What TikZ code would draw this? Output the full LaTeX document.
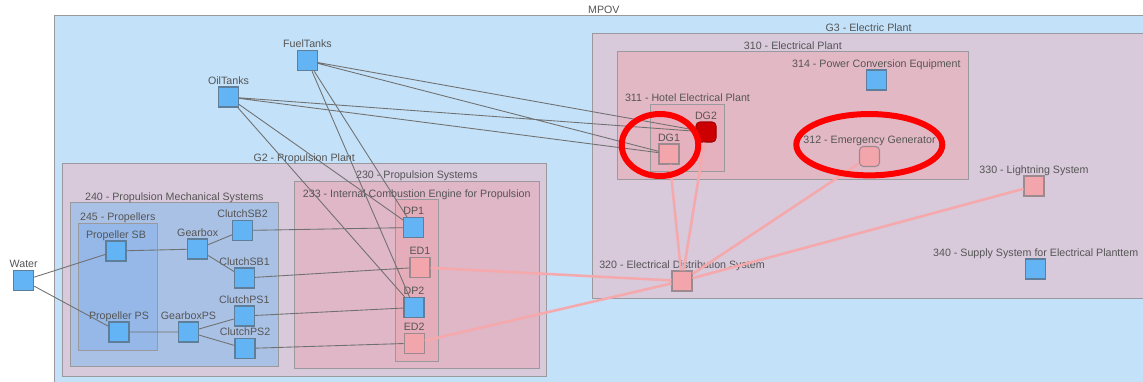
\documentclass[tikz,border=0pt]{standalone}
\usepackage{fontspec}
\setmainfont{Liberation Sans}
\definecolor{mpovfill}{HTML}{C3E1F8}
\definecolor{gfill}{HTML}{D8C9DB}
\definecolor{fA}{HTML}{A9C1E5}
\definecolor{fB}{HTML}{95B8E8}
\definecolor{fC}{HTML}{DFB7C6}
\definecolor{fD}{HTML}{E5ADBA}
\definecolor{fE}{HTML}{E2B8C5}
\definecolor{fF}{HTML}{E6B1BE}
\definecolor{contborder}{HTML}{9A9A9E}
\definecolor{bfill}{HTML}{63B4F5}
\definecolor{bborder}{HTML}{5E7E9A}
\definecolor{pfill}{HTML}{F2A5AA}
\definecolor{pborder}{HTML}{9C8A90}
\definecolor{dgred}{HTML}{CC0000}
\definecolor{linkgray}{HTML}{707070}
\definecolor{linkpink}{HTML}{F5A9AC}
\definecolor{txtgray}{HTML}{555555}
\begin{document}
\begin{tikzpicture}[x=0.75pt,y=-0.75pt,
  lbl/.style={font=\fontsize{8}{9.6}\selectfont, text=txtgray, inner sep=0pt, text depth=0pt},
  every label/.style={lbl}, label distance=1.6pt,
  cont/.style={draw=contborder, line width=0.75pt},
  bnode/.style={draw=bborder, fill=bfill, minimum width=15pt, minimum height=15pt, inner sep=0pt, line width=0.8pt},
  pnode/.style={draw=pborder, fill=pfill, minimum width=15pt, minimum height=15pt, inner sep=0pt, line width=0.8pt},
  glink/.style={draw=linkgray, line width=0.65pt},
  plink/.style={draw=linkpink, line width=1.9pt},
  hilite/.style={draw=red, line width=4.5pt}
]
\useasboundingbox (0,0) rectangle (1143,382);
\clip (0,0) rectangle (1143,382);
% containers
\filldraw[cont, fill=mpovfill] (54.7,15.7) rectangle (1170,400);
\node[lbl, anchor=base] (lmpov) at (603.9,13.5) {MPOV};
\filldraw[cont, fill=gfill] (62.4,163.3) rectangle (546,376.7);
\node[lbl, anchor=base] (lg2) at (304.2,161.1) {G2 - Propulsion Plant};
\filldraw[cont, fill=fA] (70.4,202.3) rectangle (278.2,366);
\node[lbl, anchor=base] (l240) at (174.3,200.1) {240 - Propulsion Mechanical Systems};
\filldraw[cont, fill=fB] (78.5,223) rectangle (157,350);
\node[lbl, anchor=base] (l245) at (117.75,220.8) {245 - Propellers};
\filldraw[cont, fill=fC] (294.7,181) rectangle (539,368.7);
\node[lbl, anchor=base] (l230) at (416.9,178.8) {230 - Propulsion Systems};
\filldraw[cont, fill=fD] (395.3,199.3) rectangle (438.2,361.3);
\node[lbl, anchor=base] (l233) at (416.75,197.1) {233 - Internal Combustion Engine for Propulsion};
\filldraw[cont, fill=gfill] (592,33.7) rectangle (1145.2,298.7);
\node[lbl, anchor=base] (lg3) at (868.6,31.5) {G3 - Electric Plant};
\filldraw[cont, fill=fE] (617.6,51.7) rectangle (968.2,179.3);
\node[lbl, anchor=base] (l310) at (792.9,49.5) {310 - Electrical Plant};
\filldraw[cont, fill=fF] (650.7,104) rectangle (724.3,171.7);
\node[lbl, anchor=base] (l311) at (687.5,101.8) {311 - Hotel Electrical Plant};
% nodes
\node[bnode, label=above:FuelTanks] (fuel) at (307.5,60.7) {};
\node[bnode, label=above:OilTanks] (oil) at (228.5,97) {};
\node[bnode, label=above:Water] (water) at (23.7,280.5) {};
\node[bnode, label=above:Propeller SB] (psb) at (116,251) {};
\node[bnode, label=above:Propeller PS] (pps) at (119,332) {};
\node[bnode, label=above:Gearbox] (gb) at (197.7,249) {};
\node[bnode, label=above:ClutchSB2] (sb2) at (242.5,230.5) {};
\node[bnode, label=above:ClutchSB1] (sb1) at (244.5,278) {};
\node[bnode, label=above:ClutchPS1] (ps1) at (244.3,316) {};
\node[bnode, label=above:GearboxPS] (gbps) at (188.5,332) {};
\node[bnode, label=above:ClutchPS2] (ps2) at (245,348.5) {};
\node[bnode, label=above:DP1] (dp1) at (413.7,227.5) {};
\node[pnode, label=above:ED1] (ed1) at (420,267.3) {};
\node[bnode, label=above:DP2] (dp2) at (414,307.5) {};
\node[pnode, label=above:ED2] (ed2) at (414.2,343.2) {};
\node[pnode, fill=dgred, draw=dgred!80!black, rounded corners=3pt, label=above:DG2] (dg2) at (706,132) {};
\node[pnode, label=above:DG1] (dg1) at (669,154) {};
\node[bnode, label=above:314 - Power Conversion Equipment] (n314) at (876.4,80) {};
\node[pnode, rounded corners=3pt, label=above:312 - Emergency Generator] (n312) at (869.5,156.5) {};
\node[pnode, label=above:330 - Lightning System] (n330) at (1034,186) {};
\node[pnode, label=above:320 - Electrical Distribution System] (n320) at (682,281) {};
\node[bnode, label=above:340 - Supply System for Electrical Planttem] (n340) at (1035.7,269) {};
% connectors
\path[glink] (water) -- (psb) (water) -- (pps) (psb) -- (gb) (gb) -- (sb2) (gb) -- (sb1)
  (pps) -- (gbps) (gbps) -- (ps1) (gbps) -- (ps2)
  (sb2) -- (dp1) (sb1) -- (ed1) (ps1) -- (dp2) (ps2) -- (ed2)
  (fuel) -- (dp1) (fuel) -- (dp2) (oil) -- (dp1) (oil) -- (dp2)
  (fuel) -- (dg1) (fuel) -- (dg2) (oil) -- (dg1) (oil) -- (dg2);
\path[plink] (ed1) -- (n320) (ed2) -- (n320) (dg1) -- (n320) (dg2) -- (n320)
  (n312) -- (n320) (n330) -- (n320);
% highlight marks
\draw[hilite] (660,145) ellipse [x radius=28.7pt, y radius=23.25pt];
\draw[hilite] (869.3,144.7) ellipse [x radius=54.75pt, y radius=23pt];
\end{tikzpicture}
\end{document}
